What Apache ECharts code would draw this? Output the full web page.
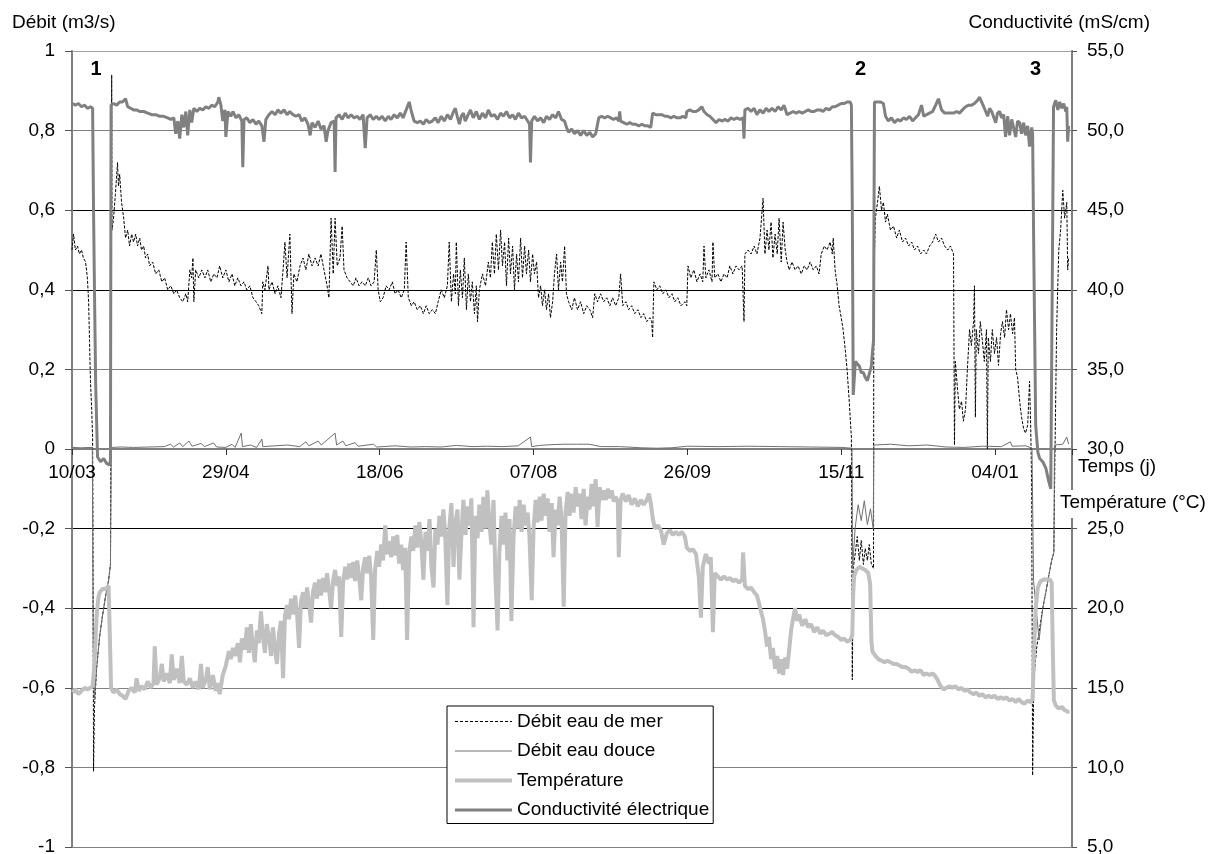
<!DOCTYPE html>
<html><head><meta charset="utf-8">
<script src="https://cdn.jsdelivr.net/npm/echarts@6/dist/echarts.min.js"></script>
<style>html,body{margin:0;padding:0;background:#fff}#c{width:1214px;height:854px}</style>
</head><body><div id="c"></div><script>
// x values: days since 10/03
const xTickDays = [0,50,100,150,200,250,300];
const xTickLabels = ['10/03','29/04','18/06','07/08','26/09','15/11','04/01'];
const seriesNames = ['Débit eau de mer','Débit eau douce','Température','Conductivité électrique'];

// Débit eau de mer (m3/s)
const seaData = [[0,.50],[0.5,.54],[1.1,.50],[1.8,.51],[2.4,.49],[3.1,.50],[3.7,.48],[4.4,.47],[5.0,.43],[5.4,.37],[5.7,.27],[6.0,.17],[6.4,.10],[6.7,.03],[6.8,-.15],[7.0,-.81],[7.3,-.65],[8.0,-.55],[9.0,-.47],[9.9,-.42],[10.9,-.37],[11.9,-.33],[12.5,-.29],[12.7,.15],[12.9,.94],[13.0,.55],[13.5,.58],[14.1,.64],[14.8,.72],[15.1,.66],[15.5,.69],[16.1,.62],[16.8,.58],[17.4,.53],[18.1,.55],[18.7,.51],[19.4,.54],[20.0,.52],[20.7,.54],[21.3,.51],[22.0,.53],[22.6,.50],[23.3,.51],[23.9,.48],[24.6,.49],[25.2,.46],[26.2,.47],[27.2,.44],[28.2,.45],[29.2,.42],[30.1,.43],[31.1,.40],[32.1,.41],[33.1,.39],[34.0,.40],[35.0,.38],[36.0,.37],[37.0,.39],[37.6,.37],[38.3,.45],[38.9,.43],[39.3,.48],[39.6,.37],[40.2,.45],[41.2,.43],[42.2,.45],[43.2,.43],[44.1,.45],[45.1,.42],[46.1,.44],[47.1,.43],[48.0,.46],[49.0,.43],[50.0,.45],[51.0,.42],[52.0,.44],[52.9,.41],[53.9,.43],[54.9,.41],[55.9,.42],[56.8,.40],[57.8,.41],[58.8,.38],[59.8,.37],[60.7,.36],[61.7,.34],[62.0,.42],[62.7,.40],[63.7,.46],[64.0,.40],[65.0,.42],[66.0,.39],[66.9,.41],[67.9,.38],[68.6,.45],[69.2,.52],[69.9,.43],[70.8,.54],[71.5,.34],[72.1,.44],[73.1,.42],[74.1,.46],[75.1,.48],[76.0,.45],[77.0,.49],[78.0,.46],[79.0,.48],[80.0,.46],[80.9,.49],[81.9,.45],[82.9,.41],[83.5,.38],[84.2,.58],[84.9,.44],[85.5,.58],[86.2,.46],[87.1,.48],[87.8,.56],[88.4,.45],[89.4,.43],[90.4,.42],[91.4,.41],[92.3,.43],[93.3,.41],[94.3,.42],[95.3,.41],[96.3,.43],[97.2,.41],[98.2,.42],[98.9,.50],[99.5,.40],[100.2,.37],[101.1,.38],[102.1,.41],[103.1,.40],[104.1,.42],[105.0,.39],[106.0,.40],[107.0,.38],[108.0,.40],[108.6,.52],[109.3,.38],[110.3,.36],[111.2,.37],[112.2,.35],[113.2,.36],[114.2,.34],[115.1,.36],[116.1,.34],[117.1,.35],[118.1,.34],[119.0,.37],[120.0,.40],[121.0,.38],[122.0,.41],[122.6,.52],[123.3,.37],[124.0,.44],[124.6,.39],[124.9,.52],[125.6,.36],[126.2,.45],[126.9,.38],[127.5,.48],[128.2,.35],[128.8,.44],[129.5,.37],[130.1,.42],[130.8,.34],[131.4,.41],[131.8,.32],[132.4,.40],[133.4,.44],[134.4,.41],[135.3,.47],[136.0,.43],[136.6,.52],[137.3,.44],[137.9,.54],[138.6,.45],[139.3,.55],[139.9,.46],[140.6,.52],[141.2,.41],[141.9,.53],[142.5,.44],[143.2,.51],[143.8,.40],[144.5,.49],[145.1,.42],[145.8,.53],[146.4,.43],[147.1,.51],[147.7,.44],[148.4,.50],[149.0,.42],[149.7,.49],[150.3,.44],[151.0,.47],[151.6,.38],[152.3,.41],[152.9,.36],[153.6,.40],[154.2,.35],[154.9,.39],[155.5,.33],[156.2,.37],[156.8,.44],[157.5,.49],[158.1,.40],[158.8,.47],[159.4,.42],[160.1,.51],[160.7,.39],[161.4,.37],[162.4,.35],[163.3,.38],[164.3,.35],[165.3,.37],[166.3,.34],[167.3,.36],[168.3,.35],[169.2,.33],[169.9,.39],[170.8,.37],[171.8,.39],[172.8,.37],[173.8,.38],[174.8,.36],[175.7,.38],[176.7,.36],[177.7,.38],[178.3,.44],[179.0,.36],[180.0,.37],[180.9,.35],[181.9,.36],[182.9,.34],[183.9,.35],[184.9,.33],[185.8,.34],[186.8,.32],[187.8,.33],[188.4,.32],[188.7,.28],[189.1,.42],[190.1,.40],[191.0,.41],[192.0,.39],[193.0,.40],[194.0,.38],[195.0,.39],[195.9,.37],[196.9,.38],[197.9,.36],[199.2,.37],[199.8,.36],[200.2,.46],[201.1,.43],[202.1,.45],[203.1,.42],[204.1,.44],[205.0,.42],[205.4,.51],[206.0,.43],[207.0,.45],[208.0,.42],[208.3,.52],[208.9,.43],[209.9,.44],[210.9,.42],[211.9,.44],[212.9,.43],[213.8,.46],[214.8,.44],[215.8,.46],[216.8,.45],[217.8,.46],[218.4,.32],[218.7,.49],[219.7,.50],[220.7,.49],[221.7,.51],[222.6,.49],[223.6,.53],[224.6,.63],[225.2,.49],[225.9,.55],[226.5,.50],[227.2,.57],[227.8,.48],[228.5,.54],[229.2,.49],[229.8,.58],[230.5,.47],[231.1,.57],[231.8,.50],[232.4,.47],[233.1,.45],[234.0,.47],[235.0,.45],[236.0,.46],[237.0,.44],[238.0,.46],[238.9,.45],[239.9,.47],[240.9,.45],[241.9,.46],[242.8,.44],[243.5,.49],[244.5,.51],[245.4,.50],[246.4,.52],[247.1,.49],[247.4,.53],[248.0,.45],[248.7,.41],[249.3,.36],[250.0,.33],[250.6,.30],[251.3,.25],[251.9,.20],[252.6,.12],[252.9,.08],[253.3,.03],[253.6,-.58],[253.9,-.30],[254.6,-.26],[255.2,-.22],[255.9,-.28],[256.5,-.23],[257.2,-.29],[257.8,-.25],[258.5,-.28],[259.1,-.24],[259.8,-.29],[260.5,-.30],[260.6,.43],[261.1,.58],[261.8,.62],[262.4,.66],[263.1,.60],[263.7,.62],[264.4,.57],[265.0,.59],[266.0,.55],[267.0,.56],[268.0,.53],[268.9,.55],[269.9,.52],[270.9,.53],[271.9,.51],[272.9,.52],[273.8,.50],[274.8,.51],[275.8,.49],[276.8,.50],[277.7,.49],[278.7,.51],[279.7,.52],[280.7,.54],[281.6,.52],[282.6,.53],[283.6,.51],[284.6,.50],[285.5,.51],[286.5,.49],[286.8,.01],[287.1,.22],[287.8,.15],[288.4,.10],[289.1,.12],[289.7,.07],[290.4,.10],[291.0,.20],[291.7,.30],[292.3,.26],[293.0,.32],[293.3,.41],[293.6,.08],[293.9,.30],[294.6,.24],[295.2,.32],[295.9,.27],[296.5,.22],[297.2,.30],[297.5,.0],[297.8,.28],[298.5,.22],[299.1,.30],[299.8,.24],[300.5,.28],[301.1,.21],[301.8,.29],[302.4,.32],[303.1,.28],[303.7,.35],[304.4,.30],[305.0,.34],[305.7,.29],[306.3,.33],[306.7,.20],[307.3,.18],[308.0,.12],[308.6,.08],[309.3,.05],[309.9,.04],[310.6,.06],[311.2,.17],[311.6,.05],[311.9,-.10],[312.2,-.82],[312.6,-.58],[313.5,-.50],[314.5,-.45],[315.5,-.40],[316.5,-.36],[317.4,-.32],[318.4,-.28],[319.1,-.26],[319.4,-.05],[320.0,.30],[320.7,.50],[321.3,.55],[322.0,.65],[322.6,.58],[323.3,.62],[323.6,.45],[323.9,.48]];

// Débit eau douce (m3/s)
const freshData = [[0,.004],[3,.003],[6.6,.004],[6.9,-.5],[7.3,-.63],[8.0,-.55],[9.0,-.47],[9.9,-.42],[10.9,-.37],[11.9,-.33],[12.5,-.29],[12.8,.004],[16,.005],[20,.004],[25,.005],[30,.006],[32,.012],[33,.005],[35,.015],[36,.006],[38,.02],[39,.007],[42,.014],[43,.006],[46,.015],[47,.005],[50,.004],[52,.012],[53,.004],[55,.04],[55.4,.006],[58,.01],[60,.004],[61.7,.025],[62,.006],[66,.008],[70,.01],[74,.006],[76,.018],[77,.008],[80,.02],[81,.01],[85.5,.04],[86,.01],[88,.02],[89,.008],[92,.016],[93,.007],[98,.012],[99,.005],[105,.008],[110,.005],[115,.006],[120,.005],[125,.009],[130,.006],[135,.007],[140,.006],[145,.008],[149,.03],[149.4,.006],[152,.009],[156,.011],[160,.012],[164,.012],[168,.012],[172,.006],[178,.006],[185,.003],[190,.002],[195,.003],[200,.007],[210,.006],[220,.007],[230,.006],[240,.005],[250,.004],[253.5,.002],[253.7,-.3],[254.5,-.2],[255.5,-.14],[256.5,-.18],[257.5,-.13],[258.5,-.19],[259.5,-.15],[260.4,-.2],[260.6,.01],[266,.012],[272,.008],[278,.01],[284,.005],[290,.004],[296,.007],[302,.006],[305,.018],[305.5,.007],[310,.008],[312,.002],[312.5,-.33],[314.3,-.48],[315.5,-.40],[316.5,-.36],[317.4,-.32],[318.4,-.28],[319.1,-.26],[319.3,.01],[322,.012],[323.3,.03],[323.9,.012]];

// Température (°C)
const tempData = [[0.2,14.7],[1.1,14.9],[2.1,14.6],[3.1,14.8],[4.1,15.0],[5.0,14.9],[6.0,15.0],[6.7,15.1],[7.3,16.5],[8.0,19.5],[8.6,20.7],[9.0,21.0],[9.9,21.2],[10.9,21.2],[11.9,21.4],[12.5,21.5],[12.7,15.0],[13.5,14.7],[14.5,14.9],[15.5,14.6],[16.4,14.5],[17.4,14.3],[18.4,14.8],[19.4,15.0],[20.4,14.7],[21.0,15.6],[21.7,14.8],[22.6,15.1],[23.6,14.9],[24.6,15.4],[25.6,15.0],[26.5,15.3],[26.9,17.6],[27.5,15.2],[28.5,15.6],[29.2,16.5],[29.8,15.4],[30.8,15.9],[31.8,15.3],[32.4,17.1],[33.1,15.5],[34.0,16.2],[35.0,15.3],[35.7,17.0],[36.3,15.4],[37.3,15.2],[38.3,15.6],[39.3,15.0],[40.2,15.4],[41.2,14.9],[41.9,16.5],[42.5,15.0],[43.5,15.5],[44.1,16.3],[44.8,14.9],[45.8,15.8],[46.7,14.8],[47.4,15.3],[48.0,14.6],[49.0,15.8],[50.0,16.4],[51.0,17.3],[51.6,16.8],[52.3,17.5],[52.9,17.0],[53.9,17.8],[54.6,16.6],[55.2,18.1],[56.2,17.4],[56.8,18.8],[57.5,17.2],[58.1,19.0],[58.8,17.6],[59.4,16.6],[60.1,18.6],[60.7,17.8],[61.4,19.8],[62.0,18.3],[62.7,17.2],[63.3,19.0],[64.0,18.2],[64.7,17.0],[65.3,18.8],[66.0,17.4],[66.6,16.5],[67.3,18.4],[67.9,19.2],[68.6,15.6],[69.2,19.5],[69.9,20.2],[70.5,19.3],[71.2,20.6],[71.8,19.6],[72.5,20.8],[73.1,19.8],[73.8,17.5],[74.4,20.4],[75.1,21.0],[75.7,20.0],[76.4,21.3],[77.0,20.3],[77.7,19.1],[78.3,21.0],[79.0,21.6],[79.6,20.6],[80.3,21.8],[80.9,20.8],[81.6,21.9],[82.2,21.0],[82.9,22.2],[83.5,21.2],[84.2,20.0],[84.9,21.8],[85.5,22.4],[86.2,21.4],[86.8,22.0],[87.5,18.2],[88.1,21.6],[88.8,22.6],[89.4,21.8],[90.1,22.8],[90.7,21.9],[91.4,22.9],[92.0,21.7],[92.7,23.0],[93.3,22.0],[94.0,20.5],[94.6,22.5],[95.3,23.2],[95.9,22.2],[96.6,23.3],[97.2,22.0],[97.9,18.0],[98.5,22.4],[99.2,23.6],[99.8,22.6],[100.5,24.0],[101.1,23.0],[101.8,25.2],[102.4,23.4],[103.1,24.2],[103.7,23.2],[104.4,24.5],[105.0,23.3],[105.7,24.6],[106.3,22.8],[107.0,24.0],[107.6,22.4],[108.3,23.8],[108.9,18.0],[109.6,23.5],[110.3,24.5],[110.9,23.6],[111.6,25.2],[112.2,23.8],[112.9,25.4],[113.5,24.2],[114.2,21.8],[114.9,24.8],[115.5,23.6],[116.2,25.6],[116.8,22.6],[117.5,21.3],[118.1,25.0],[118.8,24.0],[119.4,25.8],[120.0,24.5],[120.7,26.2],[121.3,24.6],[122.0,20.2],[122.6,25.0],[123.3,26.6],[124.0,22.6],[124.6,25.4],[125.3,26.2],[125.9,21.8],[126.6,24.8],[127.2,26.8],[127.9,24.6],[128.5,26.4],[129.2,25.2],[129.8,26.9],[130.5,18.8],[131.1,25.8],[131.8,24.4],[132.4,26.5],[133.1,24.8],[133.7,27.0],[134.4,25.0],[135.0,27.4],[135.7,25.2],[136.3,24.0],[137.0,26.8],[137.6,22.0],[138.3,18.6],[138.9,23.5],[139.6,25.8],[140.2,24.0],[140.9,26.0],[141.5,23.0],[142.2,25.6],[142.8,19.2],[143.5,24.5],[144.2,26.4],[144.8,25.0],[145.5,26.8],[146.1,24.8],[146.8,26.5],[147.4,25.2],[148.1,26.0],[148.7,24.4],[149.4,20.5],[150.0,25.0],[150.7,26.8],[151.3,25.4],[152.0,27.0],[152.6,25.5],[153.3,27.2],[153.9,25.8],[154.6,26.9],[155.2,24.8],[155.9,26.6],[156.5,23.2],[157.2,26.2],[157.8,25.2],[158.5,27.0],[159.1,25.6],[159.8,20.1],[160.4,26.0],[161.1,27.3],[161.7,25.8],[162.4,27.2],[163.0,26.0],[163.7,27.6],[164.3,26.4],[165.0,27.2],[165.6,25.6],[166.3,27.5],[166.9,25.2],[167.6,27.0],[168.2,26.2],[168.9,27.8],[169.5,26.4],[170.2,28.1],[170.8,25.1],[171.5,27.6],[172.1,26.8],[172.8,27.4],[173.5,26.8],[174.1,27.5],[174.8,26.9],[175.4,27.4],[176.1,26.7],[176.7,27.0],[177.4,26.6],[177.7,23.2],[178.3,26.8],[179.0,27.2],[180.0,26.7],[180.9,27.1],[181.9,26.5],[182.9,26.9],[183.9,26.4],[184.9,26.8],[185.8,26.5],[186.8,26.8],[187.5,27.2],[188.1,26.6],[188.7,25.7],[189.4,25.0],[190.4,25.2],[191.4,24.9],[192.3,24.0],[193.3,24.7],[194.3,24.9],[195.3,24.6],[196.3,24.8],[197.2,24.6],[198.2,24.8],[199.2,24.5],[199.8,23.8],[200.8,23.6],[201.8,23.7],[202.8,23.4],[203.7,22.0],[204.4,19.4],[205.0,22.6],[206.0,23.4],[207.0,22.8],[207.6,23.2],[208.3,18.5],[208.9,22.2],[209.9,22.0],[210.9,21.8],[211.9,22.0],[212.9,21.8],[213.8,21.9],[214.8,21.7],[215.8,21.8],[216.8,21.6],[217.8,21.8],[218.1,23.5],[218.7,21.4],[219.7,21.2],[220.7,21.3],[221.7,21.0],[222.6,20.8],[223.3,20.3],[223.9,19.8],[224.6,19.3],[225.2,18.6],[225.9,17.6],[226.5,18.2],[227.2,16.8],[227.8,17.5],[228.5,16.2],[229.2,17.0],[229.8,15.9],[230.5,16.8],[231.1,15.8],[231.8,16.9],[232.4,16.2],[233.1,17.4],[233.7,18.6],[234.4,19.4],[235.0,20.0],[235.7,19.2],[236.3,19.6],[237.3,18.9],[238.3,19.3],[239.3,18.8],[240.2,19.0],[241.2,18.5],[242.2,18.8],[243.2,18.4],[244.1,18.6],[245.1,18.3],[246.1,18.4],[247.1,18.5],[248.0,18.3],[249.0,18.2],[250.0,18.0],[251.0,18.1],[251.9,17.9],[252.9,18.0],[253.6,18.3],[253.9,21.0],[254.2,22.0],[254.9,22.4],[255.9,22.6],[256.8,22.5],[257.8,22.4],[258.8,22.2],[259.4,21.5],[259.8,18.0],[260.1,17.3],[261.1,17.0],[262.1,16.8],[263.1,16.7],[264.1,16.6],[265.0,16.7],[266.0,16.6],[267.0,16.5],[268.0,16.5],[268.9,16.4],[269.9,16.3],[270.9,16.3],[271.9,16.2],[272.9,16.0],[273.8,16.1],[274.8,16.0],[275.8,16.1],[276.8,15.8],[277.7,15.9],[278.7,15.8],[279.7,15.9],[280.7,15.7],[281.3,15.5],[282.3,15.1],[283.3,14.9],[284.2,15.0],[285.2,15.1],[286.2,15.0],[287.1,15.1],[288.1,14.9],[289.1,15.0],[290.1,14.8],[291.0,14.9],[292.0,14.7],[293.0,14.6],[293.9,14.7],[294.9,14.5],[295.9,14.6],[296.9,14.4],[297.9,14.5],[298.9,14.4],[299.8,14.5],[300.8,14.3],[301.8,14.4],[302.8,14.3],[303.7,14.4],[304.7,14.2],[305.7,14.3],[306.7,14.1],[307.6,14.3],[308.6,14.1],[309.6,14.0],[310.6,14.2],[311.6,14.1],[312.2,14.3],[312.6,17.0],[313.2,20.0],[313.9,21.3],[314.8,21.7],[315.8,21.8],[316.8,21.8],[317.8,21.8],[318.4,21.6],[318.8,17.0],[319.1,14.2],[319.7,13.9],[320.7,13.7],[321.7,13.8],[322.6,13.6],[323.6,13.5],[324.2,13.5]];

// Conductivité électrique (mS/cm)
const condData = [[0.2,51.7],[1.1,51.6],[2.1,51.7],[3.1,51.5],[4.1,51.6],[5.0,51.4],[6.0,51.5],[6.7,51.4],[7.0,45],[7.3,40],[7.7,34],[8.3,29.5],[9.3,29.2],[10.3,29.4],[11.2,29.1],[12.2,29.0],[12.5,29.3],[12.7,51.6],[13.5,51.7],[14.5,51.6],[15.5,51.8],[16.4,51.8],[17.4,52.0],[18.1,51.5],[19.1,51.4],[20.0,51.3],[21.0,51.3],[22.0,51.2],[23.3,51.2],[24.6,51.1],[25.9,51.0],[27.2,51.0],[28.5,50.9],[29.8,50.9],[31.1,50.8],[32.1,50.7],[33.1,50.8],[33.7,49.8],[34.4,50.6],[35.0,49.5],[35.7,51.0],[36.3,50.2],[37.0,51.2],[37.6,49.7],[38.3,51.3],[38.9,50.5],[39.6,51.4],[40.6,51.2],[41.5,51.4],[42.5,51.3],[43.5,51.5],[44.5,51.4],[45.4,51.6],[46.4,51.5],[47.4,51.8],[47.7,52.1],[48.4,51.6],[49.0,50.6],[49.7,51.3],[50.0,49.6],[50.7,51.2],[51.6,50.9],[52.3,51.2],[53.3,50.8],[54.2,51.0],[55.2,50.6],[55.5,47.7],[55.9,50.7],[56.8,50.8],[57.8,50.5],[58.8,50.7],[59.8,50.4],[60.7,50.6],[61.7,50.3],[62.4,49.3],[63.0,50.7],[64.0,51.0],[65.0,51.2],[66.0,51.0],[66.9,51.3],[67.9,51.1],[68.9,51.3],[69.9,51.0],[70.8,51.2],[71.8,51.0],[72.8,50.9],[73.8,51.0],[74.7,50.6],[75.7,50.8],[76.7,50.4],[77.4,49.7],[78.0,50.5],[79.0,50.2],[80.0,50.6],[80.9,50.1],[81.9,50.3],[82.6,49.3],[83.2,50.0],[84.2,50.5],[85.2,50.6],[85.5,47.4],[85.8,50.8],[86.8,51.0],[87.8,50.7],[88.8,51.1],[89.7,50.8],[90.7,51.0],[91.7,50.8],[92.7,50.9],[93.6,50.7],[94.6,51.0],[95.3,48.9],[95.9,50.8],[96.9,51.0],[97.9,50.7],[98.9,50.9],[99.8,50.7],[100.8,50.9],[101.8,50.6],[102.8,50.9],[103.7,50.7],[104.7,51.0],[105.7,50.8],[106.7,51.1],[107.6,50.8],[108.6,51.3],[109.6,51.8],[110.3,51.2],[111.2,50.6],[112.2,50.5],[113.2,50.6],[114.2,50.4],[115.1,50.7],[116.1,50.5],[117.1,50.6],[118.1,50.8],[119.0,50.5],[120.0,50.9],[121.0,50.6],[122.0,51.0],[123.0,50.7],[124.0,51.2],[124.6,51.4],[125.2,50.9],[125.9,50.4],[126.5,50.9],[127.2,51.1],[127.8,50.6],[128.5,50.9],[129.5,51.3],[130.4,50.8],[131.4,51.2],[132.4,50.7],[133.4,51.1],[134.4,50.8],[135.3,51.3],[136.3,50.9],[137.3,51.0],[138.3,50.7],[139.3,51.1],[140.2,50.9],[141.2,51.2],[142.2,50.8],[143.2,51.0],[144.1,50.7],[145.1,51.1],[146.1,50.8],[147.1,50.9],[148.1,50.6],[148.7,50.4],[149.0,48.0],[149.4,50.6],[150.3,50.9],[151.3,50.6],[152.3,50.8],[153.3,50.5],[154.2,50.9],[155.2,50.7],[156.2,51.0],[157.2,50.8],[158.1,51.2],[159.1,50.7],[160.1,50.6],[160.7,50.2],[161.4,49.9],[162.4,50.1],[163.3,49.8],[164.3,50.0],[165.3,49.7],[166.3,50.0],[167.3,49.7],[168.3,49.9],[169.2,49.6],[170.2,49.8],[170.8,49.7],[171.2,50.8],[172.1,50.9],[173.1,50.8],[174.1,50.9],[175.1,50.8],[176.0,50.7],[177.0,50.8],[177.7,50.6],[178.0,51.2],[178.3,50.6],[179.3,50.5],[180.3,50.4],[181.3,50.5],[182.2,50.4],[183.2,50.4],[184.2,50.3],[185.2,50.4],[186.2,50.3],[187.1,50.3],[188.1,50.2],[188.4,50.2],[188.7,51.1],[189.7,51.0],[190.7,51.0],[191.7,51.0],[192.7,50.9],[193.6,50.9],[194.6,50.8],[195.6,50.9],[196.6,50.8],[197.6,50.8],[198.5,50.9],[199.5,50.8],[199.8,51.2],[200.8,51.3],[201.8,51.2],[202.8,51.2],[203.7,51.3],[204.7,51.5],[205.4,51.2],[206.4,51.0],[207.3,50.9],[208.3,50.7],[209.3,50.5],[210.3,50.7],[211.2,50.6],[212.2,50.7],[213.2,50.6],[214.2,50.8],[215.1,50.7],[216.1,50.8],[217.1,50.7],[218.1,50.8],[218.4,49.5],[218.7,51.3],[219.7,51.4],[220.7,51.2],[221.7,51.4],[222.6,51.0],[223.6,51.3],[224.6,51.1],[225.6,51.4],[226.5,51.2],[227.5,51.4],[228.5,51.2],[229.5,51.5],[230.5,51.3],[231.4,51.6],[232.4,51.0],[233.4,51.1],[234.4,51.2],[235.4,51.1],[236.3,51.2],[237.3,51.1],[238.3,51.2],[239.3,51.3],[240.2,51.2],[241.2,51.2],[242.2,51.3],[243.2,51.3],[244.1,51.2],[245.1,51.4],[246.1,51.3],[247.1,51.5],[248.0,51.5],[249.0,51.6],[250.0,51.7],[251.0,51.7],[251.9,51.8],[252.9,51.8],[253.3,51.6],[253.6,45],[253.9,33.4],[254.6,35.5],[255.2,35.6],[255.9,35.2],[256.5,34.8],[257.2,34.8],[257.8,34.5],[258.5,34.3],[259.1,34.4],[259.8,35.2],[260.1,36.0],[260.5,36.8],[260.8,51.8],[261.8,51.8],[262.7,51.8],[263.7,51.7],[264.4,50.9],[265.3,50.6],[266.3,50.8],[267.3,50.5],[268.3,50.7],[269.3,50.6],[270.2,50.8],[271.2,50.7],[272.2,50.9],[273.2,50.6],[274.1,50.8],[275.1,51.0],[276.1,51.6],[276.8,50.9],[277.7,51.0],[278.7,51.1],[279.7,51.2],[280.7,51.6],[281.6,52.0],[282.6,51.3],[283.6,51.1],[284.6,51.1],[285.5,51.1],[286.5,51.1],[287.5,51.2],[288.4,51.1],[289.4,51.3],[290.4,51.5],[291.4,51.6],[292.4,51.6],[293.3,51.7],[294.3,51.9],[295.0,52.1],[295.6,51.8],[296.3,51.5],[296.9,51.6],[297.6,50.9],[298.2,51.4],[298.9,51.2],[299.5,51.3],[300.2,50.5],[300.8,51.1],[301.5,51.2],[302.1,50.8],[302.8,51.0],[303.4,49.6],[304.1,50.9],[304.7,49.7],[305.4,50.7],[306.0,50.8],[306.7,49.6],[307.3,50.6],[308.0,50.5],[308.6,49.8],[309.3,50.5],[309.9,49.7],[310.6,50.3],[311.2,49.0],[311.9,50.2],[312.2,49.8],[312.6,42],[313.2,31.5],[313.9,29.8],[314.5,29.4],[315.5,29.2],[316.5,28.8],[317.4,28.0],[318.1,27.5],[318.7,27.6],[319.0,51.5],[319.7,51.9],[320.4,51.3],[321.0,51.8],[321.7,51.4],[322.3,51.7],[323.0,51.2],[323.3,51.5],[323.6,49.3],[323.9,50.3]];

const FONT = '"Liberation Sans", Arial, sans-serif';
const gridColors = ['#808080','#808080','#808080','#000','#000','#808080','#808080','#000','#000','#808080','#a0a0a0'];
const chart = echarts.init(document.getElementById('c'), null, {renderer:'canvas'});
const txt = (text, x, y, align, bold, vAlign) => ({
  type:'text', x:x, y:y, silent:true, z:60,
  style:{text:text, font:(bold?'bold 20px ':'19px ')+FONT, fill:'#000',
    textAlign:align, align:align, textVerticalAlign:vAlign||'middle', verticalAlign:vAlign||'middle'}
});
const staticGraphic = [
  {type:'rect', x:1058, y:490, shape:{width:150, height:28}, style:{fill:'#fff'}, silent:true, z:50},
  txt('Débit (m3/s)', 12, 23, 'left'),
  txt('Conductivité (mS/cm)', 1150, 23, 'right'),
  txt('1', 96, 69, 'center', true),
  txt('2', 860.5, 69, 'center', true),
  txt('3', 1035.5, 69, 'center', true),
  txt('Temps (j)', 1078, 467, 'left'),
  txt('Température (°C)', 1060, 503, 'left')
];
chart.setOption({
  animation:false,
  backgroundColor:'#fff',
  grid:{left:72, right:142, top:51, bottom:7, containLabel:false, outerBoundsMode:'none'},
  xAxis:{
    type:'value', min:0, max:325, interval:50,
    axisLine:{onZero:true, onZeroAxisIndex:0, lineStyle:{color:'#808080', width:2}},
    axisTick:{show:true, length:6, lineStyle:{color:'#333'}},
    axisLabel:{show:false},
    splitLine:{show:false}
  },
  yAxis:[{
    type:'value', min:-1, max:1, interval:0.2, position:'left',
    axisLine:{show:true, onZero:false, lineStyle:{color:'#808080', width:2}},
    axisTick:{show:true, length:7, lineStyle:{color:'#555'}},
    axisLabel:{margin:17, fontSize:19, fontFamily:FONT, color:'#000',
      formatter:v => String(Math.round(v*10)/10).replace('.', ',')},
    splitLine:{show:true, lineStyle:{color:gridColors, width:1}}
  },{
    type:'value', min:5, max:55, interval:5, position:'right',
    axisLine:{show:true, onZero:false, lineStyle:{color:'#808080', width:2}},
    axisTick:{show:true, length:5, lineStyle:{color:'#555'}},
    axisLabel:{margin:15, fontSize:19, fontFamily:FONT, color:'#000',
      formatter:v => v.toFixed(1).replace('.', ',')},
    splitLine:{show:false}
  }],
  legend:{
    orient:'vertical', left:447, top:706, padding:[6,4,4,6],
    itemWidth:57, itemHeight:14, itemGap:10.5,
    backgroundColor:'#fff', borderColor:'#000', borderWidth:1, borderRadius:0,
    textStyle:{fontSize:19, fontFamily:FONT, color:'#000'},
    itemStyle:{opacity:0},
    data:[
      {name:seriesNames[0], lineStyle:{color:'#000', width:1, type:[3,2]}},
      {name:seriesNames[1], lineStyle:{color:'#707070', width:1, type:'solid'}},
      {name:seriesNames[2], lineStyle:{color:'#c0c0c0', width:4, type:'solid'}},
      {name:seriesNames[3], lineStyle:{color:'#808080', width:3, type:'solid'}}
    ]
  },
  graphic:staticGraphic,
  series:[
    {name:seriesNames[0], type:'line', yAxisIndex:0, data:seaData, symbol:'none', showSymbol:false,
      lineStyle:{color:'#000', width:1, type:[3,1.5]}, itemStyle:{color:'#000'}},
    {name:seriesNames[1], type:'line', yAxisIndex:0, data:freshData, symbol:'none', showSymbol:false,
      lineStyle:{color:'#707070', width:1}, itemStyle:{color:'#707070'}},
    {name:seriesNames[2], type:'line', yAxisIndex:1, data:tempData, symbol:'none', showSymbol:false,
      lineStyle:{color:'#c0c0c0', width:4}, itemStyle:{color:'#c0c0c0'}},
    {name:seriesNames[3], type:'line', yAxisIndex:1, data:condData, symbol:'none', showSymbol:false,
      lineStyle:{color:'#808080', width:3}, itemStyle:{color:'#808080'}}
  ]
});
// x tick labels placed through the library's own x scale (value -> pixel)
const xLabelGraphic = xTickDays.map((d, i) => {
  const p = chart.convertToPixel({xAxisIndex:0, yAxisIndex:0}, [d, 0]);
  return txt(xTickLabels[i], p[0], p[1] + 24, 'center');
});
chart.setOption({graphic: staticGraphic.concat(xLabelGraphic)});
</script></body></html>
